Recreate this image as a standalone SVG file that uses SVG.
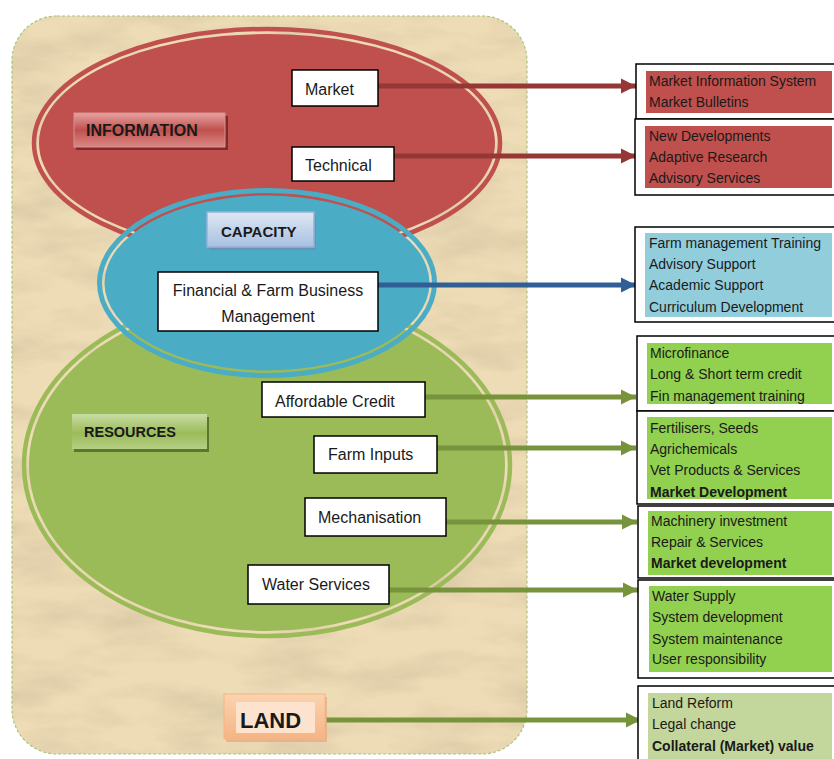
<svg xmlns="http://www.w3.org/2000/svg" width="834" height="759" viewBox="0 0 834 759">
<defs>
<style>
.t{font-family:"Liberation Sans",Arial,sans-serif;fill:#1a1a1a}
.n{font-size:16px}
.r{font-size:14px}
.b{font-weight:bold}
.box{fill:#fff;stroke:#000;stroke-width:1.5}
.ob{fill:#fff;stroke:#000;stroke-width:1.5}
.ar{fill:none;stroke-width:5}
</style>
<filter id="tex" x="0" y="0" width="100%" height="100%">
<feTurbulence type="fractalNoise" baseFrequency="0.012 0.035" numOctaves="5" seed="7"/>
<feColorMatrix type="matrix" values="0 0 0 0 0.7  0 0 0 0 0.58  0 0 0 0 0.38  1.8 0 0 0 -0.7"/>
<feComposite in2="SourceGraphic" operator="in"/>
</filter>
<linearGradient id="gInfo" x1="0" y1="0" x2="0" y2="1">
<stop offset="0" stop-color="#e6a3a1"/><stop offset="0.5" stop-color="#c0504d"/><stop offset="1" stop-color="#d98886"/>
</linearGradient>
<linearGradient id="gCap" x1="0" y1="0" x2="0" y2="1">
<stop offset="0" stop-color="#dfe8f4"/><stop offset="1" stop-color="#a7c0e0"/>
</linearGradient>
<linearGradient id="gRes" x1="0" y1="0" x2="0" y2="1">
<stop offset="0" stop-color="#c8dca4"/><stop offset="0.55" stop-color="#9bbb59"/><stop offset="1" stop-color="#b5cf85"/>
</linearGradient>
<linearGradient id="gLand" x1="0" y1="0" x2="0" y2="1">
<stop offset="0" stop-color="#fbd3b0"/><stop offset="1" stop-color="#f6b483"/>
</linearGradient>
<marker id="mR" viewBox="0 0 10 10" refX="10" refY="5" markerWidth="3" markerHeight="3.2" orient="auto" markerUnits="strokeWidth"><path d="M0,0 L10,5 L0,10 z" fill="#953735"/></marker>
<marker id="mB" viewBox="0 0 10 10" refX="10" refY="5" markerWidth="3" markerHeight="3.2" orient="auto" markerUnits="strokeWidth"><path d="M0,0 L10,5 L0,10 z" fill="#2f5f95"/></marker>
<marker id="mG" viewBox="0 0 10 10" refX="10" refY="5" markerWidth="3" markerHeight="3.2" orient="auto" markerUnits="strokeWidth"><path d="M0,0 L10,5 L0,10 z" fill="#77933c"/></marker>
</defs>

<g id="background">
<rect x="12" y="16" width="515" height="738" rx="45" fill="#eddcb5"/>
<rect x="12" y="16" width="515" height="738" rx="45" fill="#eddcb5" filter="url(#tex)"/>
<rect x="12" y="16" width="515" height="738" rx="45" fill="none" stroke="#a9c47f" stroke-width="1.2" stroke-dasharray="3 2"/>
</g>

<g id="resources-ellipse">
<ellipse cx="267" cy="465" rx="243" ry="171" fill="none" stroke="#9bbb59" stroke-width="4.5"/>
<ellipse cx="267" cy="465" rx="238" ry="166" fill="#9bbb59"/>
</g>
<g id="information-ellipse">
<ellipse cx="267" cy="143" rx="233" ry="114" fill="none" stroke="#c0504d" stroke-width="4.5"/>
<ellipse cx="267" cy="143" rx="228" ry="109" fill="#c0504d"/>
</g>
<g id="capacity-ellipse">
<ellipse cx="267" cy="283" rx="167.5" ry="92.5" fill="none" stroke="#4bacc6" stroke-width="5"/>
<ellipse cx="267" cy="283" rx="162.5" ry="87.5" fill="#4bacc6"/>
</g>

<g id="connectors">
<line class="ar" x1="378" y1="86" x2="636" y2="86" stroke="#953735" marker-end="url(#mR)"/>
<line class="ar" x1="394" y1="156" x2="636" y2="156" stroke="#953735" marker-end="url(#mR)"/>
<line class="ar" x1="378" y1="285" x2="636" y2="285" stroke="#2f5f95" marker-end="url(#mB)"/>
<line class="ar" x1="425" y1="397" x2="636" y2="397" stroke="#77933c" marker-end="url(#mG)"/>
<line class="ar" x1="437" y1="448" x2="636" y2="448" stroke="#77933c" marker-end="url(#mG)"/>
<line class="ar" x1="446" y1="522" x2="637" y2="522" stroke="#77933c" marker-end="url(#mG)"/>
<line class="ar" x1="389" y1="590" x2="638" y2="590" stroke="#77933c" marker-end="url(#mG)"/>
<line class="ar" x1="326" y1="720" x2="641" y2="720" stroke="#77933c" marker-end="url(#mG)"/>
</g>

<g id="information-label">
<rect x="76" y="116" width="152" height="34" fill="#7f2a28"/>
<rect x="74" y="113" width="151" height="34" fill="url(#gInfo)" stroke="#d9928f" stroke-width="1"/>
<text class="t b" x="86" y="136" font-size="16">INFORMATION</text>
</g>
<g id="capacity-label">
<rect x="209" y="215" width="107" height="35" fill="#6f8fba"/>
<rect x="207" y="212" width="107" height="35" fill="url(#gCap)" stroke="#95b3d7" stroke-width="1.5"/>
<text class="t b" x="221" y="237" font-size="15">CAPACITY</text>
</g>
<g id="resources-label">
<rect x="74" y="417" width="135" height="35" fill="#5e7530"/>
<rect x="72" y="414" width="135" height="35" fill="url(#gRes)"/>
<text class="t b" x="84" y="437" font-size="14.5">RESOURCES</text>
</g>
<g id="land-label">
<rect x="226" y="697" width="101" height="45" fill="#e3a77a" opacity="0.7"/>
<rect x="224" y="694" width="101" height="45" fill="url(#gLand)" stroke="#f3b58a" stroke-width="1"/>
<rect x="236" y="702" width="79" height="31" fill="#fde3cd"/>
<text class="t b" x="240" y="728" font-size="22">LAND</text>
</g>

<g id="market">
<rect class="box" x="292" y="70" width="86" height="36"/>
<text class="t n" x="305" y="95">Market</text>
</g>
<g id="technical">
<rect class="box" x="292" y="147" width="102" height="34"/>
<text class="t n" x="305" y="171">Technical</text>
</g>
<g id="financial">
<rect class="box" x="158" y="272" width="220" height="59"/>
<text class="t n" x="268" y="296" text-anchor="middle">Financial &amp; Farm Business</text>
<text class="t n" x="268" y="322" text-anchor="middle">Management</text>
</g>
<g id="affordable-credit">
<rect class="box" x="262" y="382" width="163" height="35"/>
<text class="t n" x="275" y="407">Affordable Credit</text>
</g>
<g id="farm-inputs">
<rect class="box" x="314" y="436" width="123" height="37"/>
<text class="t n" x="328" y="460">Farm Inputs</text>
</g>
<g id="mechanisation">
<rect class="box" x="305" y="498" width="141" height="38"/>
<text class="t n" x="318" y="523">Mechanisation</text>
</g>
<g id="water-services">
<rect class="box" x="248" y="565" width="141" height="39"/>
<text class="t n" x="262" y="590">Water Services</text>
</g>

<g id="info-market-box">
<rect class="ob" x="636" y="64" width="205" height="55"/>
<rect x="646" y="71" width="186" height="42" fill="#c0504d"/>
<text class="t r" x="649" y="86">Market Information System</text>
<text class="t r" x="649" y="107">Market Bulletins</text>
</g>
<g id="info-technical-box">
<rect class="ob" x="635" y="119" width="206" height="76"/>
<rect x="645" y="126" width="187" height="62" fill="#c0504d"/>
<text class="t r" x="649" y="141">New Developments</text>
<text class="t r" x="649" y="162">Adaptive Research</text>
<text class="t r" x="649" y="183">Advisory Services</text>
</g>
<g id="capacity-box">
<rect class="ob" x="635" y="227" width="206" height="95"/>
<rect x="645" y="233" width="187" height="84" fill="#92cddc"/>
<text class="t r" x="649" y="248">Farm management Training</text>
<text class="t r" x="649" y="269">Advisory Support</text>
<text class="t r" x="649" y="290">Academic Support</text>
<text class="t r" x="649" y="312">Curriculum Development</text>
</g>
<g id="credit-box">
<rect class="ob" x="637" y="336" width="204" height="75"/>
<rect x="647" y="343" width="185" height="61" fill="#92d050"/>
<text class="t r" x="650" y="358">Microfinance</text>
<text class="t r" x="650" y="379">Long &amp; Short term credit</text>
<text class="t r" x="650" y="401">Fin management training</text>
</g>
<g id="inputs-box">
<rect class="ob" x="637" y="411" width="204" height="93"/>
<rect x="647" y="417" width="185" height="82" fill="#92d050"/>
<text class="t r" x="650" y="433">Fertilisers, Seeds</text>
<text class="t r" x="650" y="454">Agrichemicals</text>
<text class="t r" x="650" y="475">Vet Products &amp; Services</text>
<text class="t r b" x="650" y="497">Market Development</text>
</g>
<g id="mechanisation-box">
<rect class="ob" x="638" y="506" width="203" height="72"/>
<rect x="648" y="511" width="184" height="64" fill="#92d050"/>
<text class="t r" x="651" y="526">Machinery investment</text>
<text class="t r" x="651" y="547">Repair &amp; Services</text>
<text class="t r b" x="651" y="568">Market development</text>
</g>
<g id="water-box">
<rect class="ob" x="638" y="580" width="203" height="98"/>
<rect x="649" y="586" width="183" height="86" fill="#92d050"/>
<text class="t r" x="652" y="601">Water Supply</text>
<text class="t r" x="652" y="622">System development</text>
<text class="t r" x="652" y="644">System maintenance</text>
<text class="t r" x="652" y="664">User responsibility</text>
</g>
<g id="land-box">
<rect class="ob" x="638" y="686" width="203" height="80"/>
<rect x="648" y="693" width="184" height="70" fill="#c3d69b"/>
<text class="t r" x="652" y="708">Land Reform</text>
<text class="t r" x="652" y="729">Legal change</text>
<text class="t r b" x="652" y="751">Collateral (Market) value</text>
</g>
</svg>
